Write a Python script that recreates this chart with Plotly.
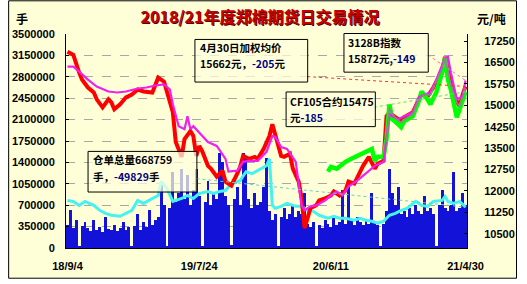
import plotly.graph_objects as go

# ---------------- data ----------------
tick_idx = [0, 45, 90, 136]
tick_labels = ["18/9/4", "19/7/24", "20/6/11", "21/4/30"]

# daily volume (hands), one value per trading-day slot
volume = [380000, 620000, 320000, 450000, 40000, 360000, 420000,
          330000, 280000, 450000, 300000, 340000, 260000, 500000, 310000, 290000, 380000, 270000, 330000, 420000, 300000, 350000,
          30000,
          360000, 560000, 300000, 420000, 350000, 620000, 380000, 450000, 500000,
          1100000, 700000, 40000, 650000, 1250000, 750000, 900000, 1300000, 800000, 1200000, 700000, 950000, 1300000, 850000,
          40000, 750000, 1100000, 700000, 900000, 800000, 1550000, 1400000, 850000, 700000, 50000,
          800000, 1000000, 700000, 1550000, 1450000, 800000, 650000, 900000, 700000, 750000, 1000000, 1480000,
          600000, 450000, 550000, 40000, 500000, 650000, 480000, 550000, 700000, 500000, 600000, 550000,
          900000, 400000, 350000, 420000, 30000, 380000, 330000, 450000, 400000, 350000, 500000, 380000, 420000, 950000, 400000,
          1050000, 450000, 380000, 500000, 420000, 380000, 450000, 400000, 900000, 420000, 380000, 30000, 400000, 600000, 1300000,
          900000, 700000, 1000000, 550000, 600000, 500000, 650000, 550000, 700000, 600000, 550000, 850000, 600000, 650000, 550000,
          40000, 700000, 950000, 650000, 600000, 700000, 1250000, 600000, 650000, 900000, 700000]

# warehouse receipts total (hands)
receipt_idx = [0, 2, 4, 6, 9, 11, 13, 15, 18, 20, 22, 24, 26, 29, 31, 32, 34, 36, 39, 41, 43, 45, 48, 50, 52, 54, 56, 59,
               61, 63, 65, 68, 69, 70, 71, 73, 75, 78, 80, 82, 84, 86, 89, 91, 93, 95, 98, 100, 102, 104, 106, 108, 110,
               112, 114, 116, 119, 121, 123, 125, 128, 129, 130, 132, 134, 136]
receipt_val = [778000, 762000, 697000, 762000, 697000, 616000, 567000, 535000, 519000, 567000, 616000, 778000, 729000,
               810000, 859000, 1086000, 972000, 762000, 810000, 859000, 810000, 891000, 924000, 891000, 924000, 940000,
               1053000, 1102000, 1248000, 1215000, 1264000, 1345000, 1458000, 697000, 648000, 681000, 729000, 681000,
               681000, 616000, 600000, 535000, 486000, 519000, 486000, 486000, 454000, 486000, 454000, 437000, 405000,
               437000, 535000, 567000, 616000, 648000, 762000, 697000, 681000, 762000, 778000, 843000, 762000, 729000,
               762000, 668759]

# weighted average price (yuan/t)
wavg_idx = [0, 2, 4, 5, 7, 9, 10, 12, 14, 15, 16, 18, 20, 22, 24, 26, 29, 30, 31, 33, 34, 36, 37, 38, 39, 40, 42, 43, 44,
            45, 46, 48, 49, 51, 53, 54, 56, 58, 59, 60, 62, 64, 65, 67, 69, 70, 71, 73, 74, 76, 77, 79, 80, 81, 82, 83,
            85, 86, 88, 90, 91, 93, 95, 96, 98, 100, 101, 103, 105, 106, 108, 109, 110, 112, 114, 115, 118, 120, 121,
            123, 125, 128, 129, 130, 131, 133, 134, 135, 136]
wavg_val = [16880, 16770, 16145, 15900, 15625, 15450, 15210, 14930, 15210, 15100, 14860, 15035, 15280, 15380, 15555,
            15485, 15450, 15730, 15970, 15830, 15485, 14755, 13715, 13470, 13195, 13820, 14095, 13925, 13230, 13575,
            13400, 12880, 12780, 12500, 12710, 12325, 12190, 12605, 12845, 13230, 13125, 13195, 13125, 13470, 13925,
            14340, 13925, 13230, 13195, 13300, 12780, 12325, 11735, 10695, 11040, 11390, 11495, 11665, 11735, 11840,
            11980, 11840, 12015, 12325, 12255, 12675, 12880, 13195, 12780, 12950, 13055, 14620, 14755, 14585, 14445,
            14585, 14755, 15210, 15380, 15310, 15625, 16180, 16700, 16250, 15800, 15140, 14965, 15380, 15662]

# 3128B index (yuan/t)
idx3128_idx = [0, 2, 4, 7, 10, 14, 17, 20, 24, 27, 30, 33, 35, 36, 38, 40, 41, 42, 43, 44, 48, 51, 54, 55, 58, 60, 62,
               65, 68, 70, 71, 73, 75, 78, 79, 80, 81, 83, 85, 88, 90, 92, 94, 96, 99, 101, 103, 105, 108, 109, 110,
               111, 113, 115, 118, 120, 122, 124, 126, 129, 130, 131, 132, 133, 135, 136]
idx3128_val = [16355, 16355, 16180, 15900, 15660, 15485, 15450, 15485, 15590, 15625, 15695, 15730, 15555, 15035, 14270,
               14165, 14620, 14165, 14270, 14165, 13715, 13575, 13125, 12675, 12710, 13020, 13055, 13055, 13370, 13925,
               13890, 13540, 13470, 13020, 12325, 11495, 11320, 11460, 11495, 11665, 11840, 11980, 11840, 12150, 12360,
               12535, 12710, 12880, 13020, 13820, 14690, 14620, 14515, 14620, 14755, 15280, 15380, 15450, 15900, 16665,
               16700, 16145, 15660, 15210, 15310, 15872]

# CF105 contract (yuan/t)
cf105_idx = [89, 90, 92, 94, 95, 97, 99, 100, 102, 104, 105, 106, 108, 109, 110, 111, 113, 114, 115, 118, 120, 121, 123,
             124, 126, 128, 129, 130, 131, 133, 134, 136]
cf105_val = [12675, 12845, 12780, 12950, 13020, 13125, 13230, 13300, 13370, 13470, 13055, 13195, 13195, 13820, 15035,
             14515, 14340, 14235, 14445, 14620, 15140, 15485, 15210, 15035, 15450, 16145, 16665, 15900, 15555, 14585,
             14860, 15475]

# other contract (gray)
gray_idx = [109, 110, 112, 114, 116, 118, 120, 122, 124, 126, 128, 129, 130, 131, 133, 134, 136]
gray_val = [13700, 14900, 14550, 14400, 14550, 14700, 15200, 15400, 15350, 15800, 16300, 16680, 16200, 15700, 15100,
            14950, 15600]

# ---------------- layout constants ----------------
W, H = 527, 284
L, R, T, B = 59, 468, 34, 250
PW, PH = R - L, B - T
BG = "#FFFFD7"
CJK = "Noto Sans CJK SC"


def px(x):
    return (x - L) / PW


def py(y):
    return (B - y) / PH


n = len(volume)
fig = go.Figure()

fig.add_trace(go.Bar(x=list(range(n)), y=volume, marker=dict(color="#1212D8", line=dict(width=0)),
                     yaxis="y", showlegend=False))
fig.add_trace(go.Scatter(x=receipt_idx, y=receipt_val, mode="lines", line=dict(color="#44F2F2", width=3),
                         yaxis="y", showlegend=False))
fig.add_trace(go.Scatter(x=wavg_idx, y=wavg_val, mode="lines", line=dict(color="#FF0000", width=4),
                         yaxis="y2", showlegend=False))
fig.add_trace(go.Scatter(x=cf105_idx, y=cf105_val, mode="lines", line=dict(color="#00FF00", width=4.5),
                         yaxis="y2", showlegend=False))
fig.add_trace(go.Scatter(x=idx3128_idx, y=idx3128_val, mode="lines", line=dict(color="#F020F0", width=2.2),
                         yaxis="y2", showlegend=False))
fig.add_trace(go.Scatter(x=gray_idx, y=gray_val, mode="lines", line=dict(color="#8A8A8A", width=1.6),
                         yaxis="y2", showlegend=False))

axfont = dict(family="Liberation Sans", size=11, color="black", weight="bold")

fig.update_layout(
    width=W, height=H,
    margin=dict(l=L, r=W - R, t=T, b=H - B, pad=0),
    paper_bgcolor="white", plot_bgcolor=BG,
    bargap=0,
    xaxis=dict(range=[-0.5, n - 0.5], tickvals=tick_idx, ticktext=tick_labels, showgrid=False,
               showline=True, linecolor="black", linewidth=1, ticks="", tickfont=axfont,
               ticklabelstandoff=8, zeroline=False),
    yaxis=dict(range=[0, 3500000], dtick=350000, tickformat="d", showgrid=True, gridcolor="#A8A8A8",
               griddash="dash", gridwidth=1, showline=True, linecolor="black", linewidth=1,
               ticks="inside", ticklen=3, tickcolor="black", tickfont=axfont, zeroline=False,
               ticklabelstandoff=8),
    yaxis2=dict(range=[10000, 17500], dtick=750, overlaying="y", side="right", showgrid=False,
                showline=True, linecolor="black", linewidth=1, ticks="inside", ticklen=3,
                tickcolor="black", tickfont=axfont, zeroline=False, tickformat="d",
                ticklabelstandoff=14),
    title=dict(text="2018/21年度郑棉期货日交易情况", x=260 / W, xanchor="center", xref="container",
               y=1 - 17 / H, yanchor="middle", yref="container",
               font=dict(family=CJK, size=16, color="#C80000", weight="bold",
                         shadow="1px 1px 0px #500000")),
)

shapes = []
# outer frame and cream background of the whole chart
shapes.append(dict(type="rect", xref="paper", yref="paper", x0=px(0.5), x1=px(518.5), y0=py(280.5), y1=py(0.5),
                   line=dict(color="black", width=1), fillcolor=BG, layer="below"))
# dotted leader lines from note boxes to the last points
shapes.append(dict(type="line", xref="x", yref="y2", x0=(305 - L) / PW * n - 0.5, y0=10000 + py(77) * 7500,
                   x1=wavg_idx[-1], y1=wavg_val[-1], line=dict(color="#FF3030", width=1, dash="dot")))
shapes.append(dict(type="line", xref="x", yref="y2", x0=(428 - L) / PW * n - 0.5, y0=10000 + py(55) * 7500,
                   x1=idx3128_idx[-1], y1=idx3128_val[-1], line=dict(color="#FF66CC", width=1, dash="dot")))
shapes.append(dict(type="line", xref="x", yref="y2", x0=(373 - L) / PW * n - 0.5, y0=10000 + py(108) * 7500,
                   x1=cf105_idx[-1], y1=cf105_val[-1], line=dict(color="#66DD66", width=1, dash="dot")))
shapes.append(dict(type="line", xref="x", yref="y", x0=(192 - L) / PW * n - 0.5, y0=py(180) * 3500000,
                   x1=receipt_idx[-1], y1=receipt_val[-1], line=dict(color="#66CCCC", width=1, dash="dot")))

blue = "#000080"
# (box left, top, right, bottom, text left, line1 centre y, line2 centre y, line1, line2)
notes = [
    (190.5, 39.5, 305.5, 82.5, 195, 48, 64, "4月30日加权均价",
     f"{wavg_val[-1]}元，<span style='color:{blue}'>-205</span>元"),
    (342.5, 33.5, 428.5, 72.5, 346, 43, 59, "3128B指数",
     f"{idx3128_val[-1]}元,<span style='color:{blue}'>-149</span>"),
    (283.5, 92.5, 374.5, 127.5, 286, 102, 118, f"CF105合约{cf105_val[-1]}",
     f"元<span style='color:{blue}'>-185</span>"),
    (81.5, 152.5, 192.5, 193.5, 86, 161, 178, f"仓单总量{receipt_val[-1]}",
     f"手，<span style='color:{blue}'>-49829</span>手"),
]
ann = []
for (x0, y0, x1, y1, tx, l1, l2, t1, t2) in notes:
    shapes.append(dict(type="rect", xref="paper", yref="paper", x0=px(x0), x1=px(x1), y0=py(y1), y1=py(y0),
                       line=dict(color="black", width=1), fillcolor="rgba(255,255,222,0.72)", layer="above"))
    for (ly, t) in ((l1, t1), (l2, t2)):
        ann.append(dict(x=px(tx), y=py(ly), xref="paper", yref="paper", xanchor="left", yanchor="middle",
                        text=t, showarrow=False, borderpad=0,
                        font=dict(family=CJK, size=10.5, color="black", weight="bold")))
fig.update_layout(shapes=shapes)

ann.append(dict(x=px(14), y=py(18), xref="paper", yref="paper", xanchor="center", yanchor="middle",
                text="手", showarrow=False, font=dict(family=CJK, size=12, color="black", weight="bold")))
ann.append(dict(x=px(493), y=py(18), xref="paper", yref="paper", xanchor="center", yanchor="middle",
                text="元/吨", showarrow=False, font=dict(family=CJK, size=12, color="black", weight="bold")))
fig.update_layout(annotations=ann)

fig.write_html("out.html")
